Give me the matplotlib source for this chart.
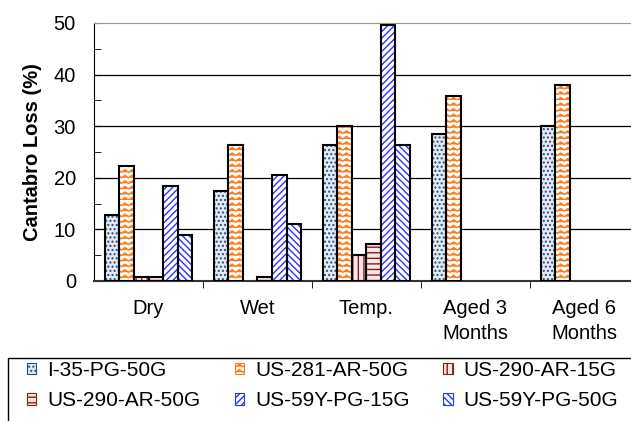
import numpy as np
import matplotlib
matplotlib.use("Agg")
import matplotlib.pyplot as plt
import matplotlib.patches as mpatches
import matplotlib.hatch as mhatch
from matplotlib.path import Path

# ---- custom zigzag hatch (mapped onto '*') ----
class ZigZagHatch(mhatch.HatchPatternBase):
    def __init__(self, hatch, density):
        self.num_rows = int(hatch.count('*') * density)
        self.n_chev = 14
        self.per_row = 2 * self.n_chev + 1
        self.num_vertices = self.num_rows * self.per_row

    def set_vertices_and_codes(self, vertices, codes):
        steps, stepsize = np.linspace(0.0, 1.0, self.num_rows, False, retstep=True)
        xs = np.linspace(0.0, 1.0, self.per_row)
        amp = stepsize * 0.45
        for i, y0 in enumerate(steps):
            sl = slice(i * self.per_row, (i + 1) * self.per_row)
            ys = y0 + np.where(np.arange(self.per_row) % 2 == 1, amp, 0.0)
            vertices[sl, 0] = xs
            vertices[sl, 1] = ys
            c = np.full(self.per_row, Path.LINETO, dtype=Path.code_type)
            c[0] = Path.MOVETO
            codes[sl] = c

mhatch._hatch_types = [t for t in mhatch._hatch_types if t is not mhatch.Stars] + [ZigZagHatch]

plt.rcParams['font.family'] = ['Liberation Sans', 'DejaVu Sans']
plt.rcParams['hatch.linewidth'] = 1.0

# ---- data ----
categories = ["Dry", "Wet", "Temp.", "Aged 3\nMonths", "Aged 6\nMonths"]
series_names = ["I-35-PG-50G", "US-281-AR-50G", "US-290-AR-15G",
                "US-290-AR-50G", "US-59Y-PG-15G", "US-59Y-PG-50G"]
i35_pg_50g = [12.8, 17.5, 26.4, 28.4, 30.0]
us281_ar_50g = [22.3, 26.4, 30.0, 35.9, 38.0]
us290_ar_15g = [0.7, np.nan, 5.1, np.nan, np.nan]
us290_ar_50g = [0.7, 0.7, 7.2, np.nan, np.nan]
us59y_pg_15g = [18.5, 20.6, 49.6, np.nan, np.nan]
us59y_pg_50g = [9.0, 11.0, 26.4, np.nan, np.nan]
yticks = [0, 10, 20, 30, 40, 50]

series = [i35_pg_50g, us281_ar_50g, us290_ar_15g, us290_ar_50g, us59y_pg_15g, us59y_pg_50g]
faces = ["#e4eaf2", "white", "#f6e8e8", "#f6e8e8", "white", "white"]
hcolors = ["#2d4a78", "#ff7a1a", "#8b1c1c", "#8b1c1c", "#3030ff", "#3030ff"]
hatches = ["....", "***", "|||", "---", "/////", "\\\\\\\\\\"]

fig = plt.figure(figsize=(6.31, 4.21), dpi=100)
ax = fig.add_axes([94/631, 1 - 281/421, 1.012 - 94/631, (281 - 23)/421])

x = np.arange(len(categories))
w = 0.1335
for k, vals in enumerate(series):
    pos = x - 0.4 + w * (k + 0.5)
    ax.bar(pos, vals, w, facecolor=faces[k], edgecolor=hcolors[k], hatch=hatches[k],
           linewidth=0, zorder=3)
    ax.bar(pos, vals, w, facecolor="none", edgecolor="black", linewidth=1.5, zorder=4)

ax.set_xlim(-0.5, 4.5)
ax.set_ylim(0, 50)
ax.set_yticks(yticks)
ax.set_yticks(np.arange(5, 50, 10), minor=True)
ax.tick_params(axis='y', which='both', direction='in', length=5, labelsize=14.5, pad=13)
for yv in yticks[1:-1]:
    ax.axhline(yv, color="black", lw=0.9, zorder=1)
ax.set_xticks(x)
ax.set_xticklabels(categories, fontsize=14.5, linespacing=1.4)
ax.set_xticks(np.arange(0.5, 4.5, 1), minor=True)
ax.tick_params(axis='x', which='major', length=0, pad=13)
ax.tick_params(axis='x', which='minor', direction='out', length=5)
ax.spines['top'].set_color("#999999")
ax.spines['right'].set_visible(False)
ax.spines['left'].set_color("black")
ax.spines['bottom'].set_color("#333333")
ax.spines['bottom'].set_linewidth(1.5)
ax.set_ylabel("Cantabro Loss (%)", fontsize=14.5, fontweight='bold', labelpad=8)

handles = [mpatches.Rectangle((0, 0), 1, 1, facecolor=faces[k], edgecolor=hcolors[k],
                              hatch=hatches[k], linewidth=0.8) for k in range(6)]
order = [0, 3, 1, 4, 2, 5]
leg = fig.legend([handles[i] for i in order], [series_names[i] for i in order],
                 loc='upper left', ncol=3,
                 bbox_to_anchor=(27/631, 1 - 361/421),
                 fontsize=15, frameon=False,
                 handlelength=0.45, handleheight=0.45,
                 handletextpad=0.53, borderpad=0, labelspacing=0.55,
                 columnspacing=1.63, borderaxespad=0)
frame = mpatches.Rectangle((8/631, -0.1), 1.1, 1 - 358/421 + 0.1, transform=fig.transFigure,
                           fill=False, edgecolor='black', linewidth=1.0, clip_on=False)
fig.add_artist(frame)

fig.savefig("out.png", dpi=100)
